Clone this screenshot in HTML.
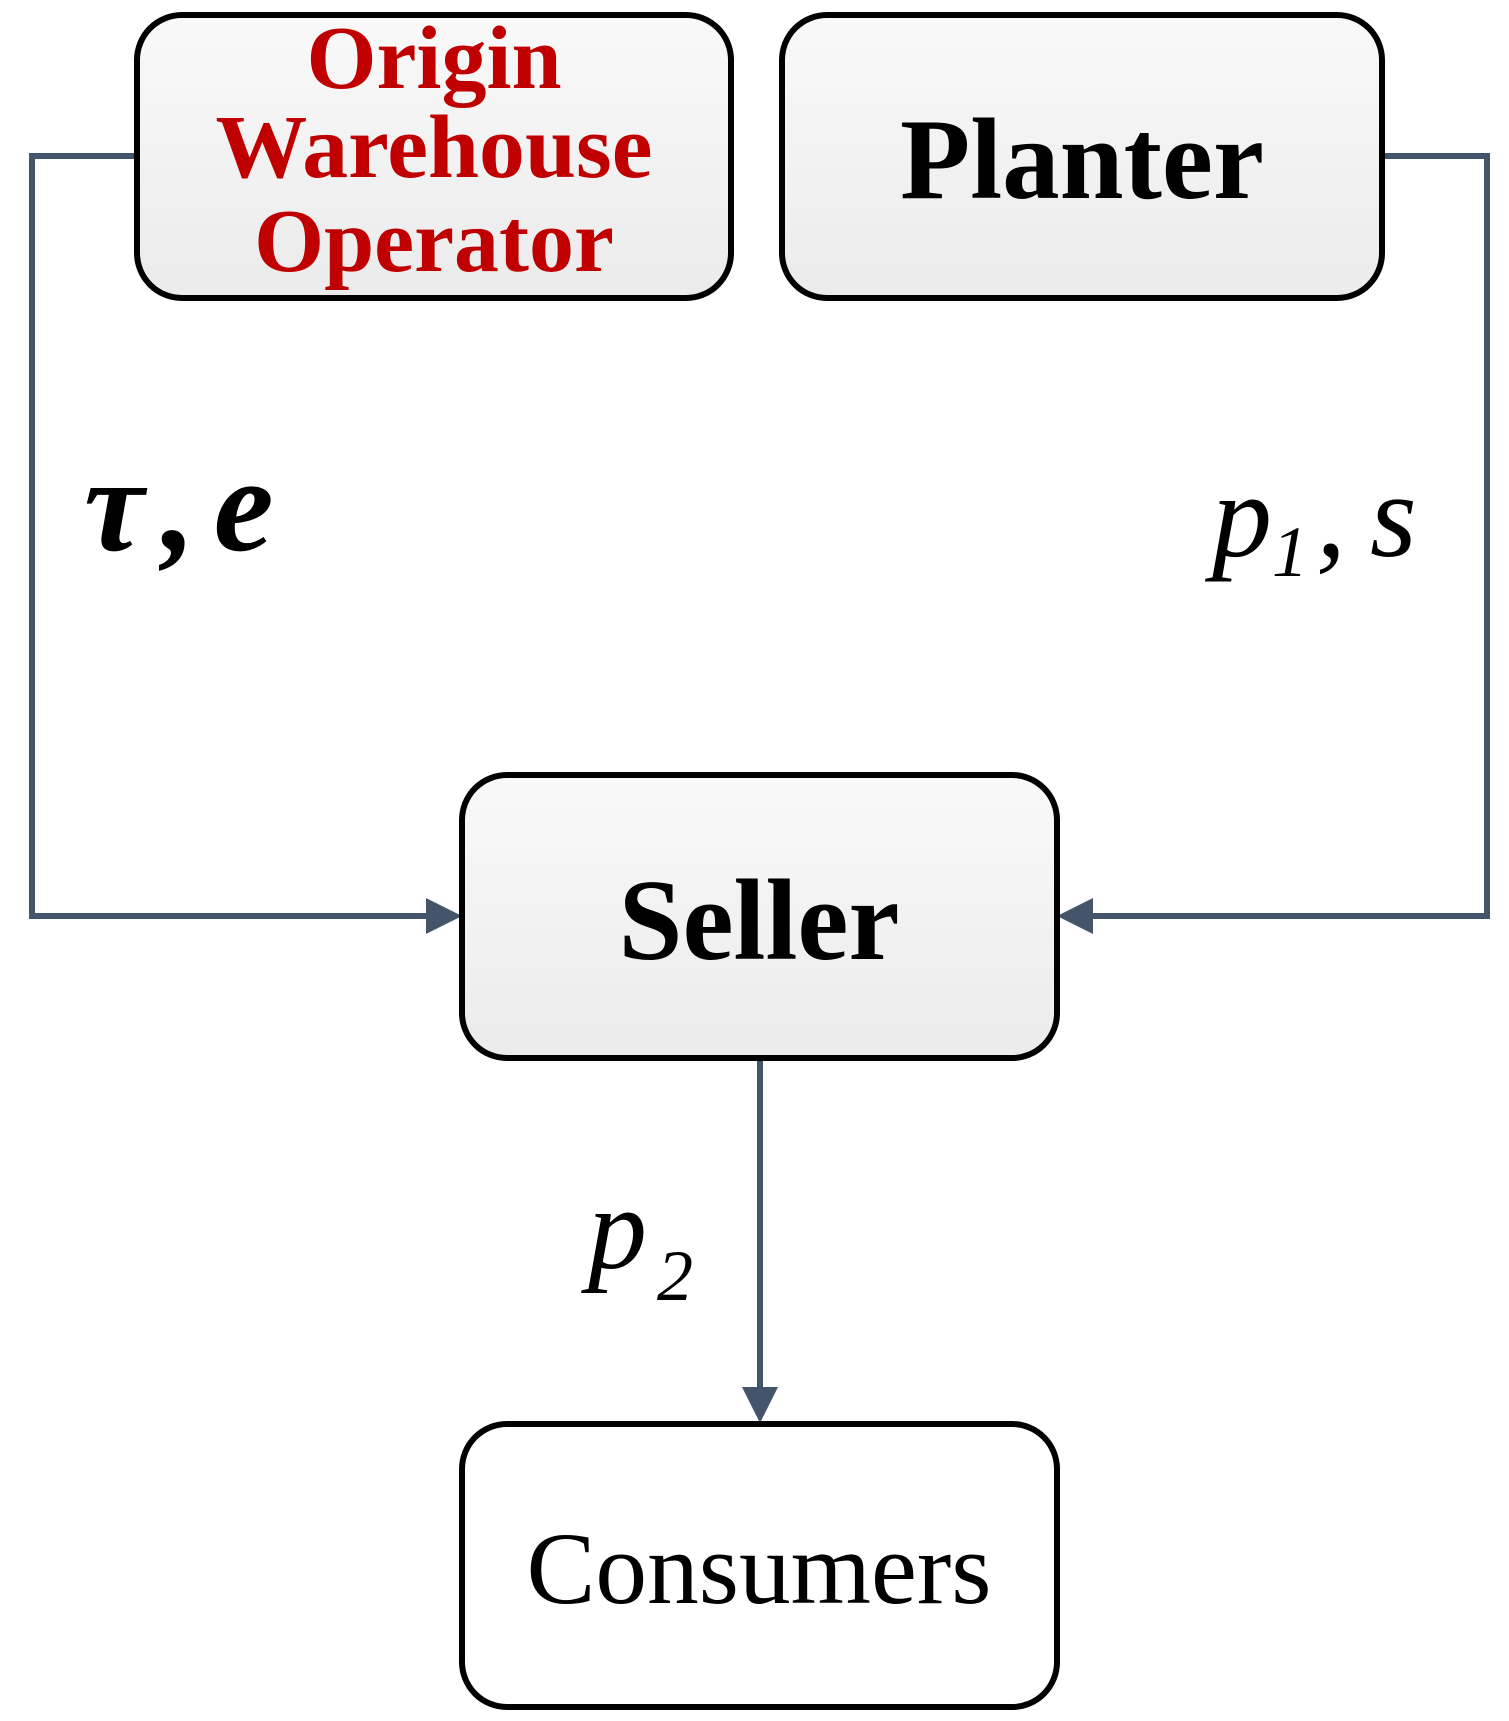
<!DOCTYPE html>
<html><head><meta charset="utf-8"><style>
html,body{margin:0;padding:0;background:#fff;}
svg{display:block;}
</style></head><body>
<svg width="1509" height="1721" viewBox="0 0 1509 1721" xmlns="http://www.w3.org/2000/svg">
<defs>
<linearGradient id="g" x1="0" y1="0" x2="0" y2="1">
<stop offset="0" stop-color="#f9f9f9"/><stop offset="1" stop-color="#ebebeb"/>
</linearGradient>
</defs>
<g fill="none" stroke="#44546a" stroke-width="6">
<polyline points="137,156 32,156 32,916 428,916"/>
<polyline points="1382,156 1487,156 1487,916 1092,916"/>
<line x1="760" y1="1058" x2="760" y2="1388"/>
</g>
<g fill="#44546a">
<polygon points="462,916 426,898 426,934"/>
<polygon points="1057,916 1093,898 1093,934"/>
<polygon points="760,1423 742,1387 778,1387"/>
</g>
<g stroke="#000" stroke-width="6">
<rect x="137" y="15" width="594" height="283" rx="45" fill="url(#g)"/>
<rect x="782" y="15" width="600" height="283" rx="45" fill="url(#g)"/>
<rect x="462" y="775" width="595" height="283" rx="45" fill="url(#g)"/>
<rect x="462" y="1424" width="595" height="283" rx="45" fill="#fff"/>
</g>
<g font-family="Liberation Serif, serif" text-anchor="middle">
<g fill="#c00000" font-weight="bold" font-size="90">
<text x="434" y="88">Origin</text>
<text x="434" y="177" textLength="437" lengthAdjust="spacingAndGlyphs">Warehouse</text>
<text x="434" y="271">Operator</text>
</g>
<text x="1082" y="198" font-weight="bold" font-size="115" textLength="364" lengthAdjust="spacingAndGlyphs">Planter</text>
<text x="759" y="959" font-weight="bold" font-size="115" textLength="281" lengthAdjust="spacingAndGlyphs">Seller</text>
<text x="759" y="1603" font-size="103" textLength="465" lengthAdjust="spacingAndGlyphs">Consumers</text>
</g>
<g font-family="Liberation Serif, serif" font-style="italic">
<text x="84" y="550" font-size="135" font-weight="bold">τ<tspan dx="18">,</tspan><tspan dx="18">e</tspan></text>
<text x="1212" y="556" font-size="120">p<tspan font-size="72" dy="20">1</tspan><tspan dy="-20" dx="8">,</tspan><tspan dx="24">s</tspan></text>
<text x="588" y="1268" font-size="118">p<tspan font-size="72" dy="32" dx="10">2</tspan></text>
</g>
</svg>
</body></html>
